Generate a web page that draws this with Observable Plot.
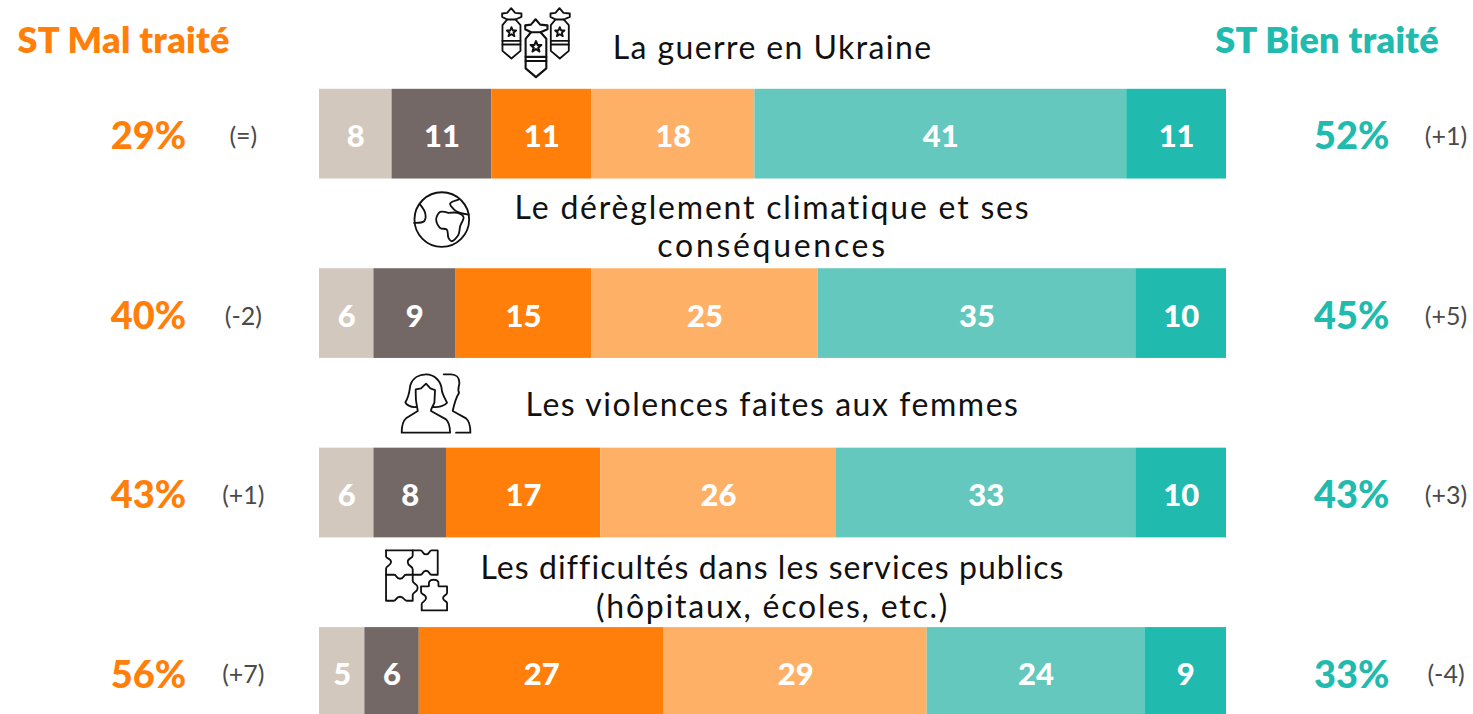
<!DOCTYPE html>
<html lang="fr">
<head>
<meta charset="utf-8">
<script src="https://cdn.jsdelivr.net/npm/d3@7"></script>
<script src="https://cdn.jsdelivr.net/npm/@observablehq/plot@0.6"></script>
<style>
html,body{margin:0;padding:0;background:#fff;overflow:hidden}
svg{display:block}
.head text{letter-spacing:0.3px}
.l0 text{letter-spacing:1.4px}
.l1 text{letter-spacing:1.8px}
.l2 text{letter-spacing:2.7px}
.l3 text{letter-spacing:1.55px}
.l4 text{letter-spacing:1.08px}
.l5 text{letter-spacing:1.8px}
</style>
</head>
<body>
<div id="chart"></div>
<script>
const topicLines = [
  "La guerre en Ukraine",
  "Le dérèglement climatique et ses",
  "conséquences",
  "Les violences faites aux femmes",
  "Les difficultés dans les services publics",
  "(hôpitaux, écoles, etc.)"
];
const topicLineRows = [0, 1, 1, 2, 3, 3];
const topicLineDy = [-85, -105, -67, -87, -104, -65];
const answers = ["Très mal", "Plutôt mal 1", "Mal", "Plutôt mal 2", "Bien", "Très bien"];
const colors = ["#d2c8be", "#736866", "#ff7f0a", "#ffb067", "#64c8be", "#20bbae"];
const seg1 = [8, 11, 11, 18, 41, 11];
const seg2 = [6, 9, 15, 25, 35, 10];
const seg3 = [6, 8, 17, 26, 33, 10];
const seg4 = [5, 6, 27, 29, 24, 9];
const segments = [seg1, seg2, seg3, seg4];
const malTraite = ["29%", "40%", "43%", "56%"];
const malDelta = ["(=)", "(-2)", "(+1)", "(+7)"];
const bienTraite = ["52%", "45%", "43%", "33%"];
const bienDelta = ["(+1)", "(+5)", "(+3)", "(-4)"];
const orange = "#ff7f0a", teal = "#20bbae", grey = "#4a4a4a";

// Line-art pictograms
const star = "M393 81 L397 91 L407 91 L399 98 L402 108 L393 102 L384 108 L387 98 L379 91 L389 91 Z";
const bomb = `<path d="M365 40 L380 38 L392 24 L404 38 L423 40 L423 50 L405 58 L380 58 L365 50 Z"/>
<path d="M380 58 L366 75 V152 L393 175 L420 152 V75 L405 58"/><path d="M366 122 H420 M366 133 H420"/><path d="${star}"/>`;
const curve = d3.line().curve(d3.curveCatmullRom);
const globeLeft = [[150,75],[165,100],[162,125],[132,130]];
const globeTop = [[265,60],[240,72],[252,90],[270,100],[296,105]];
const africa = [[235,100],[210,97],[198,120],[210,145],[230,150],[235,175],[245,185],[265,165],[270,140],[280,112],[262,100],[235,100]];
const iconBody = [
  `<g transform="translate(0,0)">${bomb}</g><g transform="translate(145,0)">${bomb}</g><g transform="translate(432,55) scale(1.15) translate(-363,-22)">${bomb}</g>`,
  `<circle cx="215" cy="120" r="82"/><path d="${curve(globeLeft)}"/><path d="${curve(globeTop)}"/><path d="${curve(africa)}"/>`,
  `<path d="M135 138 C118 140 105 130 103 124 C115 105 115 90 118 72 C125 50 145 40 165 40 C190 40 210 60 212 85 C213 100 225 118 228 125 C222 133 205 140 185 138"/>
   <path d="M134 95 L134 85 L150 82 L165 68 L178 82 L192 87 L190 125 C185 138 180 140 180 150 L225 175 C235 185 237 195 237 215 H92 C92 190 95 180 105 172 L140 150 C140 140 133 130 134 95 Z"/>
   <path d="M218 40 H240 C255 40 265 50 265 65 C265 75 258 85 264 95 C258 105 250 125 245 150 L285 172 C295 180 298 195 298 215 H255"/>`,
  `<path d="M45 27 H125 V42 C125 52 110 48 110 62 C110 76 125 72 125 84 V100 H105 C96 100 100 112 87 112 C74 112 78 100 69 100 H45"/>
   <path d="M45 27 V45 C45 52 60 50 60 62 C60 74 45 72 45 82 V178 H68 C76 178 74 166 87 166 C100 166 98 178 107 178 H125 V160 C125 152 140 152 140 139 C140 126 125 128 125 118 V100"/>
   <path d="M125 27 H148 C157 27 153 39 165 39 C177 39 173 27 182 27 H200 V100 H182 C173 100 177 88 165 88 C153 88 157 100 148 100 H125"/>
   <path d="M150 135 H172 C178 135 165 115 188 115 C211 115 198 135 204 135 H228 V155 C228 162 216 160 216 170 C216 180 228 178 228 185 V207 H152 V188 C152 180 165 182 165 170 C165 158 150 160 150 152 Z"/>`
];
const iconBoxes = [[660,300],[390,240],[390,240],[390,240]];
const iconSrc = iconBody.map((body,i)=>"data:image/svg+xml;utf8,"+encodeURIComponent(
  `<svg xmlns="http://www.w3.org/2000/svg" viewBox="0 0 ${iconBoxes[i][0]} ${iconBoxes[i][1]}" fill="none" stroke="#111" stroke-width="5.5" stroke-linejoin="round" stroke-linecap="round">${body}</svg>`));

const bars = segments.flatMap((vals,i)=>vals.map((v,j)=>({row:i, answer:answers[j], value:v})));
const rows = malTraite.map((t,i)=>({row:i, mal:t, malD:malDelta[i], bien:bienTraite[i], bienD:bienDelta[i], src:iconSrc[i]}));

const X = {header:-21.6, mal:-18.85, malD:-8.4, topic:49.95, bien:113.8, bienD:124.2, headerR:111.1};
const ff = "Lato, 'Open Sans', sans-serif";
const iconX = [18.85, 12.75, 12.85, 12.85];
const iconDy = [-84, -94, -92, -91];

const chart = Plot.plot({
  width:1473, height:714, margin:0,
  style:{background:"#fff", fontFamily:ff},
  x:{domain:[0,100], range:[319,1226], axis:null},
  y:{type:"band", domain:[0,1,2,3], range:[88.8,716.8], paddingInner:0.5, paddingOuter:0, align:0, round:false, axis:null},
  color:{type:"ordinal", domain:answers, range:colors},
  marks:[
    Plot.barX(bars, Plot.stackX({x:"value", y:"row", fill:"answer", order:null})),
    Plot.text(bars, Plot.stackX({x:"value", y:"row", z:"answer", order:null, text:"value", dy:3, fill:"#fff", fontSize:31, fontWeight:900, fontFamily:ff})),
    Plot.text(rows, {x:()=>X.mal, y:"row", text:"mal", dy:3, fill:orange, fontSize:38, fontWeight:900}),
    Plot.text(rows, {x:()=>X.malD, y:"row", text:"malD", dy:3, fill:grey, fontSize:25}),
    Plot.text(rows, {x:()=>X.bien, y:"row", text:"bien", dy:3, fill:teal, fontSize:38, fontWeight:900}),
    Plot.text(rows, {x:()=>X.bienD, y:"row", text:"bienD", dy:3, fill:grey, fontSize:25}),
    ...topicLines.map((line,i)=>Plot.text([line], {x:()=>X.topic, y:()=>topicLineRows[i], text:d=>d, dy:topicLineDy[i], fill:"#111", fontSize:32, className:"l"+i})),
    Plot.text(rows.slice(0,1), {x:()=>X.header, y:"row", text:()=>"ST Mal traité", dy:-93, fill:orange, fontSize:36, fontWeight:800, className:"head"}),
    Plot.text(rows.slice(0,1), {x:()=>X.headerR, y:"row", text:()=>"ST Bien traité", dy:-93, fill:teal, fontSize:36, fontWeight:800, className:"head"}),
    ...rows.map((r,i)=>Plot.image([r], {x:()=>iconX[i], y:"row", src:"src", width:iconBoxes[i][0]/3, height:iconBoxes[i][1]/3, dy:iconDy[i]}))
  ]
});
document.getElementById("chart").appendChild(chart);
</script>
</body>
</html>
